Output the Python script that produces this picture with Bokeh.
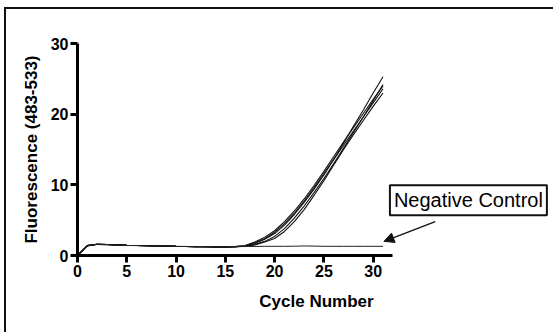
from bokeh.plotting import figure
from bokeh.models import Range1d, FixedTicker, Label, Arrow, NormalHead
from bokeh.embed import file_html
from bokeh.resources import INLINE

cycles = list(range(0, 32))
baseline = [0.0, 1.4, 1.6, 1.55, 1.5, 1.45, 1.42, 1.4, 1.36, 1.33, 1.3, 1.28, 1.26, 1.24, 1.22, 1.22, 1.25]
curve1 = baseline + [1.4, 1.9, 2.6, 3.5, 4.8, 6.3, 8.0, 9.9, 11.9, 14.0, 16.1, 18.1, 20.1, 22.1, 24.0]
curve2 = baseline + [1.35, 1.7, 2.3, 3.1, 4.3, 5.8, 7.5, 9.4, 11.4, 13.6, 15.9, 18.3, 20.6, 23.0, 25.3]
curve3 = baseline + [1.35, 1.8, 2.4, 3.3, 4.5, 6.0, 7.7, 9.6, 11.6, 13.6, 15.6, 17.6, 19.6, 21.6, 23.6]
curve4 = baseline + [1.3, 1.5, 1.9, 2.4, 3.4, 4.8, 6.5, 8.5, 10.6, 12.8, 15.0, 17.1, 19.1, 21.1, 23.0]
curve5 = baseline + [1.3, 1.55, 2.0, 2.7, 3.8, 5.3, 7.0, 8.9, 10.9, 13.0, 15.2, 17.4, 19.6, 21.9, 24.2]
negative = [0.0, 1.35, 1.55, 1.5, 1.45, 1.42, 1.4, 1.38, 1.35, 1.32, 1.3, 1.28, 1.26, 1.25, 1.24, 1.24,
            1.25, 1.27, 1.28, 1.3, 1.3, 1.3, 1.32, 1.35, 1.33, 1.3, 1.3, 1.3, 1.3, 1.3, 1.3, 1.3]
x_ticks = [0, 5, 10, 15, 20, 25, 30]
y_ticks = [0, 10, 20, 30]
annotation_text = "Negative Control"

FONT = "Liberation Sans"

# outer frame: left/top border via CSS; figure placed at (4, 7) in page
p = figure(width=549, height=325, output_backend="svg", toolbar_location=None,
           x_range=Range1d(0, 48.5), y_range=Range1d(0, 30),
           min_border_left=71, min_border_top=34, min_border_bottom=79, min_border_right=0,
           margin=(7, 0, 0, 4),
           styles={"border-left": "2px solid #111111", "border-top": "2px solid #111111"})
p.outline_line_color = None
p.grid.visible = False
p.background_fill_color = "white"
p.border_fill_color = "white"

for ys in [curve1, curve2, curve3, curve4, curve5]:
    p.line(cycles, ys, line_color="#111111", line_width=1.1)
p.line(cycles, negative, line_color="#222222", line_width=1.0)

for ax in (p.xaxis[0], p.yaxis[0]):
    ax.axis_line_width = 3
    ax.axis_line_color = "black"
    ax.major_tick_line_width = 3
    ax.major_tick_line_color = "black"
    ax.major_tick_out = 7
    ax.major_tick_in = 0
    ax.minor_tick_line_color = None
    ax.major_label_text_font = FONT
    ax.major_label_text_font_style = "bold"
    ax.major_label_text_font_size = "16px"
    ax.major_label_text_color = "black"
    ax.axis_label_text_font = FONT
    ax.axis_label_text_font_style = "bold"
    ax.axis_label_text_font_size = "17px"
    ax.axis_label_text_color = "black"

p.xaxis[0].ticker = FixedTicker(ticks=x_ticks)
p.yaxis[0].ticker = FixedTicker(ticks=y_ticks)
p.xaxis[0].bounds = (0, 32)
p.yaxis[0].bounds = (0, 30)
p.xaxis[0].axis_label = "Cycle Number"
p.yaxis[0].axis_label = "Fluorescence (483-533)"
p.xaxis[0].major_label_standoff = 2
p.yaxis[0].major_label_standoff = 2
p.xaxis[0].axis_label_standoff = 12
p.yaxis[0].axis_label_standoff = 7

lab = Label(x=31.7, y=5.7, text=annotation_text, text_font=FONT, text_font_size="20px",
            text_color="black", text_baseline="bottom", text_align="left",
            border_line_color="#111111", border_line_width=2, background_fill_color="white",
            padding=4)
p.add_layout(lab)

p.add_layout(Arrow(x_start=36.3, y_start=4.8, x_end=31.1, y_end=2.0,
                   line_color="#111111", line_width=1.3,
                   end=NormalHead(size=10, fill_color="#111111", line_color="#111111")))

open("out.html", "w").write(file_html(p, INLINE))
